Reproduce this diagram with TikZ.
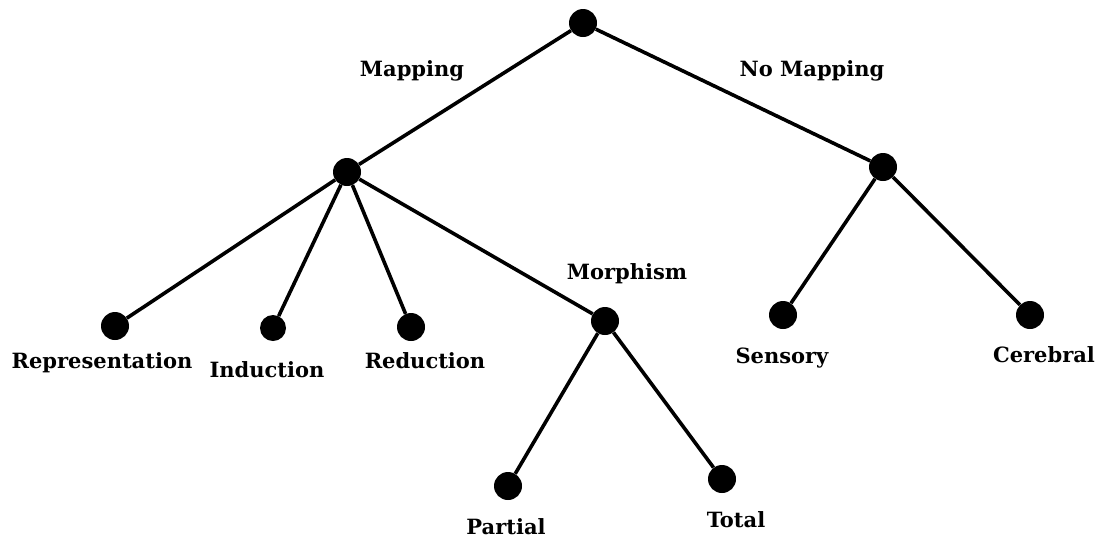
\documentclass[tikz,border=0pt]{standalone}
\usepackage{fontspec}
\setmainfont{DejaVu Serif}
\begin{document}
\begin{tikzpicture}[x=1pt,y=-1pt,
  dot/.style={circle,fill=black,inner sep=0pt,minimum size=28pt},
  smalldot/.style={dot,minimum size=26pt},
  edge/.style={line width=3.6pt},
  lbl/.style={anchor=base,inner sep=0pt,font=\fontsize{21}{25}\selectfont\bfseries}]
\useasboundingbox (0,0) rectangle (1098,539);

% tree nodes
\node[dot] (root) at (583,23) {};
\node[dot] (map) at (347,172) {};
\node[dot] (nomap) at (883,167) {};
\node[dot] (rep) at (115,326) {};
\node[smalldot] (ind) at (273,328) {};
\node[dot] (red) at (411,327) {};
\node[dot] (mor) at (605,321) {};
\node[dot] (par) at (508,486) {};
\node[dot] (tot) at (722,479) {};
\node[dot] (sen) at (783,315) {};
\node[dot] (cer) at (1030,315) {};

% branches
\draw[edge] (root) -- (map);
\draw[edge] (root) -- (nomap);
\draw[edge] (map) -- (rep);
\draw[edge] (map) -- (ind);
\draw[edge] (map) -- (red);
\draw[edge] (map) -- (mor);
\draw[edge] (mor) -- (par);
\draw[edge] (mor) -- (tot);
\draw[edge] (nomap) -- (sen);
\draw[edge] (nomap) -- (cer);

% labels
\node[lbl] (tmap) at (412,76) {Mapping};
\node[lbl] (tnomap) at (812,76) {No Mapping};
\node[lbl] (tmor) at (627,279) {Morphism};
\node[lbl] (trep) at (102,368) {Representation};
\node[lbl] (tind) at (267,377) {Induction};
\node[lbl] (tred) at (425,368) {Reduction};
\node[lbl] (tsen) at (782,363) {Sensory};
\node[lbl] (tcer) at (1044,362) {Cerebral};
\node[lbl] (tpar) at (506,534) {Partial};
\node[lbl] (ttot) at (736,527) {Total};
\end{tikzpicture}
\end{document}
